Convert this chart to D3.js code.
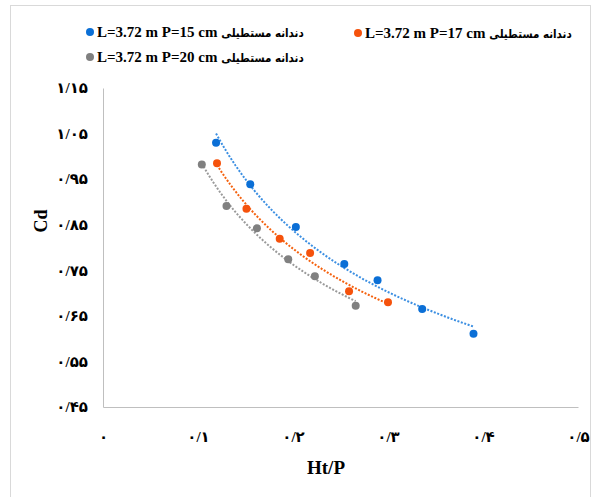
<!DOCTYPE html>
<html>
<head>
<meta charset="utf-8">
<script src="https://cdn.jsdelivr.net/npm/d3@7"></script>
<style>
  body { margin: 0; background: #fff; }
  text { font-family: "Liberation Serif", "DejaVu Sans", serif; font-weight: bold; fill: #000; }
</style>
</head>
<body>
<svg class="chart" width="595" height="497"></svg>
<script>
const seriesLabels = ['L=3.72 m P=15 cm', 'L=3.72 m P=17 cm', 'L=3.72 m P=20 cm']
const seriesSuffix = 'دندانه مستطیلی'
const colors = ['#0b6fd6', '#f5520c', '#808080']
const trendColors = ['#3c8fe2', '#f5620f', '#9a9a9a']

const htP15 = [0.119, 0.155, 0.203, 0.254, 0.289, 0.336, 0.390]
const cd15 = [1.030, 0.939, 0.845, 0.764, 0.728, 0.665, 0.611]

const htP17 = [0.120, 0.151, 0.186, 0.218, 0.259, 0.300]
const cd17 = [0.985, 0.885, 0.819, 0.788, 0.704, 0.680]

const htP20 = [0.104, 0.130, 0.162, 0.195, 0.223, 0.266]
const cd20 = [0.982, 0.891, 0.842, 0.774, 0.737, 0.672]

const xTicks = [0, 0.1, 0.2, 0.3, 0.4, 0.5]
const xTickLabels = ['۰', '۰/۱', '۰/۲', '۰/۳', '۰/۴', '۰/۵']
const yTicks = [0.45, 0.55, 0.65, 0.75, 0.85, 0.95, 1.05, 1.15]
const yTickLabels = ['۰/۴۵', '۰/۵۵', '۰/۶۵', '۰/۷۵', '۰/۸۵', '۰/۹۵', '۱/۰۵', '۱/۱۵']

const series = [[htP15, cd15], [htP17, cd17], [htP20, cd20]]

const svg = d3.select('svg.chart')

// chart frame
svg.append('rect')
  .attr('x', 10.5).attr('y', 5.5)
  .attr('width', 580).attr('height', 530)
  .attr('fill', 'none').attr('stroke', '#d9d9d9')

const x = d3.scaleLinear().domain([0, 0.5]).range([103, 578])
const y = d3.scaleLinear().domain([0.45, 1.15]).range([407, 88])

const xAxis = svg.append('g')
  .attr('transform', 'translate(0, 407)')
  .call(d3.axisBottom(x).tickValues(xTicks).tickSize(0).tickPadding(24)
    .tickFormat((d, i) => xTickLabels[i]))
xAxis.select('.domain').attr('stroke', '#bfbfbf')
xAxis.selectAll('text').style('font-size', '15px')

const yAxis = svg.append('g')
  .attr('transform', 'translate(103, 0)')
  .call(d3.axisLeft(y).tickValues(yTicks).tickSize(0).tickPadding(15)
    .tickFormat((d, i) => yTickLabels[i]))
yAxis.select('.domain').attr('stroke', '#bfbfbf')
yAxis.selectAll('text').style('font-size', '15px')

// power trendlines (least squares in log-log)
function powerFit(xs, ys) {
  const lx = xs.map(Math.log), ly = ys.map(Math.log)
  const mx = d3.mean(lx), my = d3.mean(ly)
  const b = d3.sum(lx, (v, i) => (v - mx) * (ly[i] - my)) / d3.sum(lx, v => (v - mx) ** 2)
  const a = Math.exp(my - b * mx)
  return v => a * Math.pow(v, b)
}

const line = d3.line().x(d => x(d[0])).y(d => y(d[1]))

series.forEach((s, k) => {
  const f = powerFit(s[0], s[1])
  const [lo, hi] = d3.extent(s[0])
  const pts = d3.range(0, 41).map(j => {
    const v = lo + (hi - lo) * j / 40
    return [v, f(v)]
  })
  svg.append('path')
    .attr('d', line(pts))
    .attr('fill', 'none')
    .attr('stroke', trendColors[k])
    .attr('stroke-width', 2)
    .attr('stroke-dasharray', '2 1.6')
})

series.forEach((s, k) => {
  svg.append('g')
    .selectAll('circle')
    .data(s[0])
    .enter()
    .append('circle')
    .attr('cx', d => x(d))
    .attr('cy', (d, i) => y(s[1][i]))
    .attr('r', 4)
    .attr('fill', colors[k])
})

// legend
const legendPos = [[90, 32], [358, 33], [90, 57]]
const legend = svg.selectAll('g.legend')
  .data(seriesLabels)
  .enter()
  .append('g')
  .attr('class', 'legend')
  .attr('transform', (d, i) => `translate(${legendPos[i][0]}, ${legendPos[i][1]})`)

legend.append('circle')
  .attr('r', 4)
  .attr('fill', (d, i) => colors[i])

const legendText = legend.append('text')
  .attr('x', 7)
  .attr('y', 5)
  .attr('direction', 'ltr')
  .style('font-size', '15px')
legendText.append('tspan').text(d => d + ' ')
legendText.append('tspan')
  .style('font-family', '"DejaVu Sans Condensed", "DejaVu Sans", sans-serif')
  .style('font-size', '11.5px')
  .text(seriesSuffix)

// axis titles
svg.append('text')
  .attr('x', 326)
  .attr('y', 474)
  .attr('text-anchor', 'middle')
  .style('font-size', '19px')
  .text('Ht/P')

svg.append('text')
  .attr('transform', 'translate(47, 221) rotate(-90)')
  .attr('text-anchor', 'middle')
  .style('font-size', '18px')
  .text('Cd')
</script>
</body>
</html>
